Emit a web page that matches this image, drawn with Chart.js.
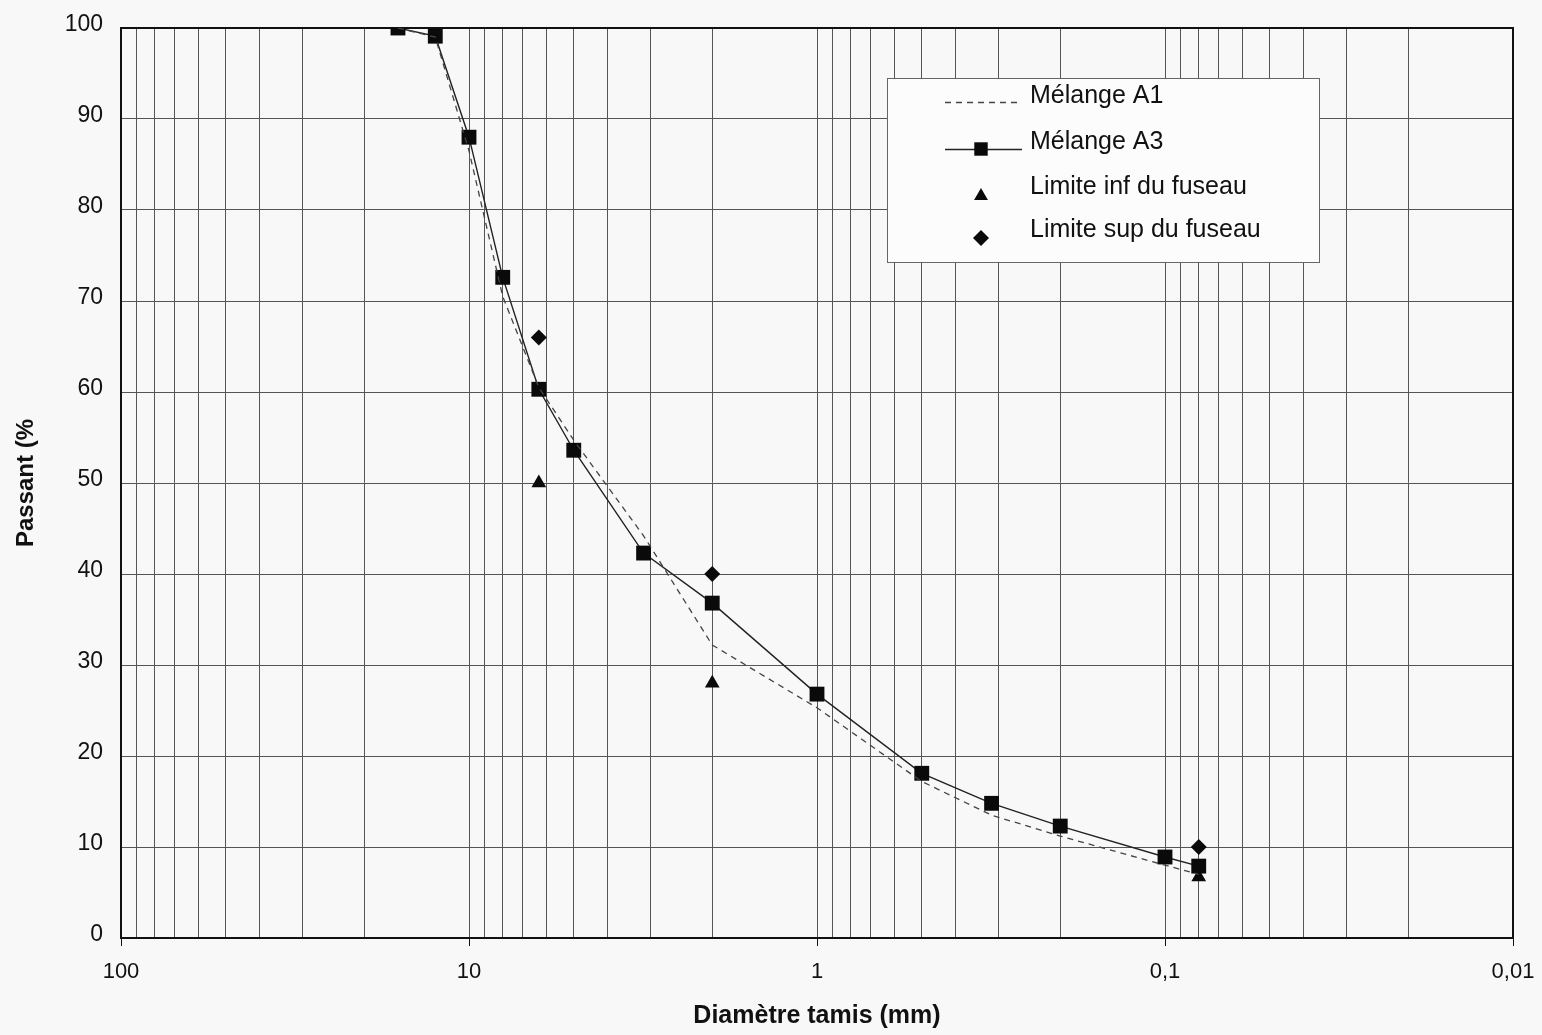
<!DOCTYPE html>
<html><head><meta charset="utf-8">
<script src="https://cdn.jsdelivr.net/npm/chart.js@4.4.1/dist/chart.umd.min.js"></script>
<style>html,body{margin:0;padding:0;background:#f8f8f8}#wrap{width:1542px;height:1035px;position:relative}</style>
</head><body><div id="wrap"><canvas id="c"></canvas></div>
<script>
const sieveSizes = [16, 12.5, 10, 8, 6.3, 5, 3.15, 2, 1, 0.5, 0.315, 0.2, 0.1, 0.08];
const melangeA1 = [100, 99, 86.5, 70.5, 60.5, 54.7, 44.2, 32.2, 25.3, 17.2, 13.5, 11.2, 8.0, 7.0];
const melangeA3 = [100, 99.1, 88, 72.6, 60.3, 53.6, 42.3, 36.8, 26.8, 18.1, 14.8, 12.3, 8.9, 7.9];
const limitSizes = [6.3, 2, 0.08];
const limiteInf = [50, 28, 6.7];
const limiteSup = [66, 40, 10];
const xTickValues = [100, 10, 1, 0.1, 0.01];
const xTickLabels = ['100', '10', '1', '0,1', '0,01'];
const yTickValues = [0, 10, 20, 30, 40, 50, 60, 70, 80, 90, 100];
const seriesLabels = ['Mélange A1', 'Mélange A3', 'Limite inf du fuseau', 'Limite sup du fuseau'];
const xTitle = 'Diamètre tamis (mm)';
const yTitle = 'Passant (%';

const FONT = "'Liberation Sans', Arial, sans-serif";
const toPts = (xs, ys) => xs.map((x, i) => ({x: x, y: ys[i]}));
const gridValues = [];
[-2, -1, 0, 1].forEach(e => { for (let m = 1; m <= 9; m++) gridValues.push(+(m * Math.pow(10, e)).toPrecision(6)); });
gridValues.push(100);
const isDecade = v => xTickValues.some(t => Math.abs(t - v) < t * 1e-6);

const bgPlugin = {
  id: 'bg',
  beforeDraw(chart) {
    const c = chart.ctx; c.save(); c.fillStyle = '#f8f8f8';
    c.fillRect(0, 0, chart.width, chart.height); c.restore();
  },
  beforeDatasetsDraw(chart) {
    const a = chart.chartArea, c = chart.ctx;
    c.save(); c.strokeStyle = '#111'; c.lineWidth = 2;
    c.strokeRect(a.left, a.top, a.right - a.left, a.bottom - a.top); c.restore();
  }
};

function marker(c, style, x, y, r) {
  c.beginPath();
  if (style === 'rect') { const s = r * Math.SQRT1_2; c.rect(x - s, y - s, 2 * s, 2 * s); }
  else if (style === 'triangle') {
    let rad = 0;
    c.moveTo(x + Math.sin(rad) * r, y - Math.cos(rad) * r);
    rad += 2 * Math.PI / 3; c.lineTo(x + Math.sin(rad) * r, y - Math.cos(rad) * r);
    rad += 2 * Math.PI / 3; c.lineTo(x + Math.sin(rad) * r, y - Math.cos(rad) * r);
    c.closePath();
  } else if (style === 'rectRot') {
    c.moveTo(x, y - r); c.lineTo(x + r, y); c.lineTo(x, y + r); c.lineTo(x - r, y); c.closePath();
  }
  c.fill();
}

const legendPlugin = {
  id: 'boxLegend',
  afterDatasetsDraw(chart) {
    const c = chart.ctx;
    c.save();
    c.fillStyle = '#fcfcfc'; c.fillRect(887.5, 78.5, 432, 184);
    c.strokeStyle = '#666'; c.lineWidth = 1; c.strokeRect(887.5, 78.5, 432, 184);
    const baselines = [103, 149, 194, 237];
    const markY = [102, 149, 196, 238];
    c.font = '25px ' + FONT; c.fillStyle = '#111'; c.textBaseline = 'alphabetic'; c.textAlign = 'left';
    chart.data.datasets.forEach((ds, i) => {
      c.fillText(ds.label, 1030, baselines[i]);
      if (ds.showLine) {
        c.save(); c.strokeStyle = ds.borderColor; c.lineWidth = ds.borderWidth;
        c.setLineDash(ds.borderDash || []);
        c.beginPath(); c.moveTo(945, markY[i] + 0.5); c.lineTo(1022, markY[i] + 0.5); c.stroke(); c.restore();
      }
      if (ds.pointRadius > 0) {
        c.fillStyle = ds.pointBackgroundColor;
        marker(c, ds.pointStyle, 981, markY[i], ds.pointStyle === 'rect' ? 9.5 : 8);
        c.fillStyle = '#111';
      }
    });
    c.restore();
  }
};

new Chart(document.getElementById('c'), {
  type: 'scatter',
  data: {
    datasets: [
      { label: seriesLabels[0], data: toPts(sieveSizes, melangeA1), showLine: true, borderColor: '#444', borderWidth: 1.3,
        borderDash: [6, 5], pointRadius: 0, pointHoverRadius: 0, pointStyle: 'circle', pointBackgroundColor: '#444' },
      { label: seriesLabels[1], data: toPts(sieveSizes, melangeA3), showLine: true, borderColor: '#222', borderWidth: 1.4,
        pointStyle: 'rect', pointRadius: 10.5, pointBackgroundColor: '#0a0a0a', pointBorderColor: '#0a0a0a', pointBorderWidth: 0 },
      { label: seriesLabels[2], data: toPts(limitSizes, limiteInf), showLine: false,
        pointStyle: 'triangle', pointRadius: 8.5, pointBackgroundColor: '#0a0a0a', pointBorderColor: '#0a0a0a', pointBorderWidth: 0 },
      { label: seriesLabels[3], data: toPts(limitSizes, limiteSup), showLine: false,
        pointStyle: 'rectRot', pointRadius: 8, pointBackgroundColor: '#0a0a0a', pointBorderColor: '#0a0a0a', pointBorderWidth: 0 }
    ]
  },
  options: {
    responsive: true, maintainAspectRatio: false, animation: false, devicePixelRatio: 1,
    layout: { padding: { top: 28, right: 29, left: 0, bottom: 0 } },
    plugins: { legend: { display: false }, tooltip: { enabled: false } },
    scales: {
      x: {
        type: 'logarithmic', reverse: true, min: 0.01, max: 100,
        afterBuildTicks: s => { s.ticks = gridValues.map(v => ({ value: v })); },
        afterFit: s => { s.height = 97; },
        ticks: { autoSkip: false, maxRotation: 0, minRotation: 0, padding: 13, color: '#111',
          font: { family: FONT, size: 22 },
          callback: v => { const i = xTickValues.findIndex(t => Math.abs(t - v) < t * 1e-6); return i >= 0 ? xTickLabels[i] : ''; } },
        grid: { color: '#555', lineWidth: 1, tickLength: 8,
          tickColor: ctx => (ctx.tick && isDecade(ctx.tick.value)) ? '#111' : 'rgba(0,0,0,0)' },
        border: { color: '#111', width: 2 },
        title: { display: true, text: xTitle, color: '#111', font: { family: FONT, size: 25, weight: 'bold' }, padding: { top: 4, bottom: 4 } }
      },
      y: {
        min: 0, max: 100,
        afterBuildTicks: s => { s.ticks = yTickValues.map(v => ({ value: v })); },
        afterFit: s => { s.width = 121; s.paddingTop = 10; s.paddingBottom = 10; },
        ticks: { padding: 18, labelOffset: -3, color: '#111', font: { family: FONT, size: 23 } },
        grid: { color: '#555', lineWidth: 1, drawTicks: false },
        border: { color: '#111', width: 2 },
        title: { display: true, text: yTitle, color: '#111', font: { family: FONT, size: 24, weight: 'bold' }, padding: { top: 12, bottom: 4 } }
      }
    }
  },
  plugins: [bgPlugin, legendPlugin]
});
</script></body></html>
